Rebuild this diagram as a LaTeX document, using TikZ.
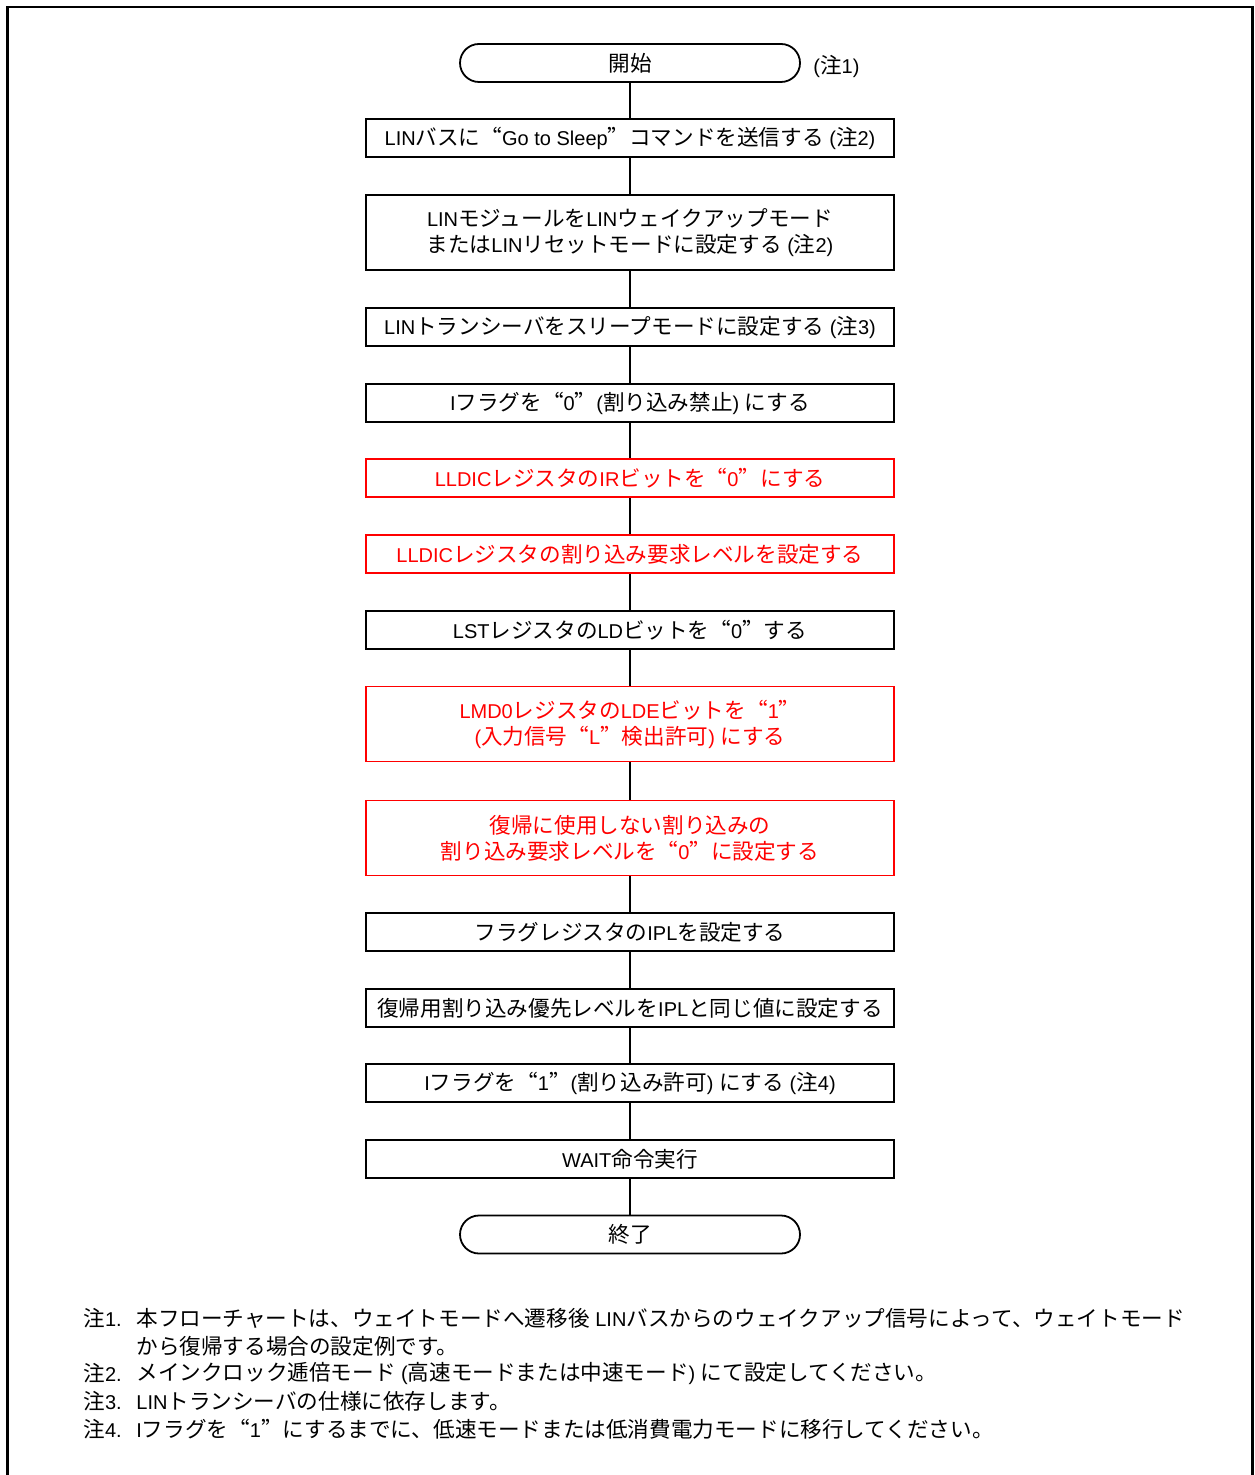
\documentclass[tikz,border=0pt]{standalone}
\usepackage{fontspec}
\setmainfont{Liberation Sans}
\newfontfamily\latinfont{Liberation Sans}
\newfontfamily\jpfont{Noto Sans CJK JP}[Scale=1.08,RawFeature={+fwid}]
\usetikzlibrary{shapes.misc}
% automatic switching of Japanese characters to the CJK font
\newcount\jpc
\def\setjprange#1#2{\jpc=#1\relax\loop\XeTeXcharclass\jpc=10\relax\ifnum\jpc<#2\advance\jpc by 1\repeat}
\setjprange{"3000}{"30FF}
\setjprange{"4E00}{"9FFF}
\setjprange{"FF00}{"FFEF}
\XeTeXcharclass"201C=10
\XeTeXcharclass"201D=10
\XeTeXinterchartoks 0 10 = {\jpfont}
\XeTeXinterchartoks 4095 10 = {\jpfont}
\XeTeXinterchartoks 10 0 = {\latinfont}
\XeTeXinterchartoks 10 4095 = {\latinfont}
\XeTeXinterchartokenstate=1
\tikzset{
  txt/.style={font=\fontsize{10pt}{13pt}\selectfont},
  box/.style={txt, draw, line width=0.9pt, minimum width=264pt, minimum height=19pt, inner sep=0pt, align=center},
  tallbox/.style={box, minimum height=37.5pt},
  redbox/.style={box, draw=red, text=red},
  redtall/.style={tallbox, draw=red, text=red},
  term/.style={txt, draw, line width=0.9pt, rounded rectangle, minimum width=170pt, minimum height=19pt, inner sep=0pt},
  conn/.style={line width=0.9pt},
  note/.style={txt, anchor=west, inner sep=0pt},
  frame/.style={line width=1.25pt}
}
\begin{document}
\begin{tikzpicture}[x=0.5pt,y=-0.5pt]
\useasboundingbox (0,0) rectangle (1254,1475);
\draw[frame] (7.5,1475) -- (7.5,7) -- (1252.5,7) -- (1252.5,1475);

\node[term] (s) at (630,63) {開始};
\node[note] (n1) at (813,66) {(注1)};
\node[box] (b1) at (630,138) {LINバスに“Go to Sleep”コマンドを送信する (注2)};
\node[tallbox] (b2) at (630,232.5) {LINモジュールをLINウェイクアップモード\\またはLINリセットモードに設定する (注2)};
\node[box] (b3) at (630,327) {LINトランシーバをスリープモードに設定する (注3)};
\node[box] (b4) at (630,403) {Iフラグを“0”(割り込み禁止) にする};
\node[redbox] (b5) at (630,478) {LLDICレジスタのIRビットを“0”にする};
\node[redbox] (b6) at (630,554) {LLDICレジスタの割り込み要求レベルを設定する};
\node[box] (b7) at (630,630) {LSTレジスタのLDビットを“0”する};
\node[redtall] (b8) at (630,724) {LMD0レジスタのLDEビットを“1”\\(入力信号“L”検出許可) にする};
\node[redtall] (b9) at (630,838) {復帰に使用しない割り込みの\\割り込み要求レベルを“0”に設定する};
\node[box] (b10) at (630,932) {フラグレジスタのIPLを設定する};
\node[box] (b11) at (630,1008) {復帰用割り込み優先レベルをIPLと同じ値に設定する};
\node[box] (b12) at (630,1083) {Iフラグを“1”(割り込み許可) にする (注4)};
\node[box] (b13) at (630,1159) {WAIT命令実行};
\node[term] (e) at (630,1234.5) {終了};

\draw[conn] (s.south) -- (b1.north);
\draw[conn] (b1.south) -- (b2.north);
\draw[conn] (b2.south) -- (b3.north);
\draw[conn] (b3.south) -- (b4.north);
\draw[conn] (b4.south) -- (b5.north);
\draw[conn] (b5.south) -- (b6.north);
\draw[conn] (b6.south) -- (b7.north);
\draw[conn] (b7.south) -- (b8.north);
\draw[conn] (b8.south) -- (b9.north);
\draw[conn] (b9.south) -- (b10.north);
\draw[conn] (b10.south) -- (b11.north);
\draw[conn] (b11.south) -- (b12.north);
\draw[conn] (b12.south) -- (b13.north);
\draw[conn] (b13.south) -- (e.north);

\node[note] (l1) at (83,1318) {注1.};
\node[note] (t1) at (136,1318) {本フローチャートは、ウェイトモードへ遷移後 LINバスからのウェイクアップ信号によって、ウェイトモード};
\node[note] (t1b) at (136,1346) {から復帰する場合の設定例です。};
\node[note] (l2) at (83,1373) {注2.};
\node[note] (t2) at (136,1373) {メインクロック逓倍モード (高速モードまたは中速モード) にて設定してください。};
\node[note] (l3) at (83,1401) {注3.};
\node[note] (t3) at (136,1401) {LINトランシーバの仕様に依存します。};
\node[note] (l4) at (83,1429) {注4.};
\node[note] (t4) at (136,1429) {Iフラグを“1”にするまでに、低速モードまたは低消費電力モードに移行してください。};
\end{tikzpicture}
\end{document}
